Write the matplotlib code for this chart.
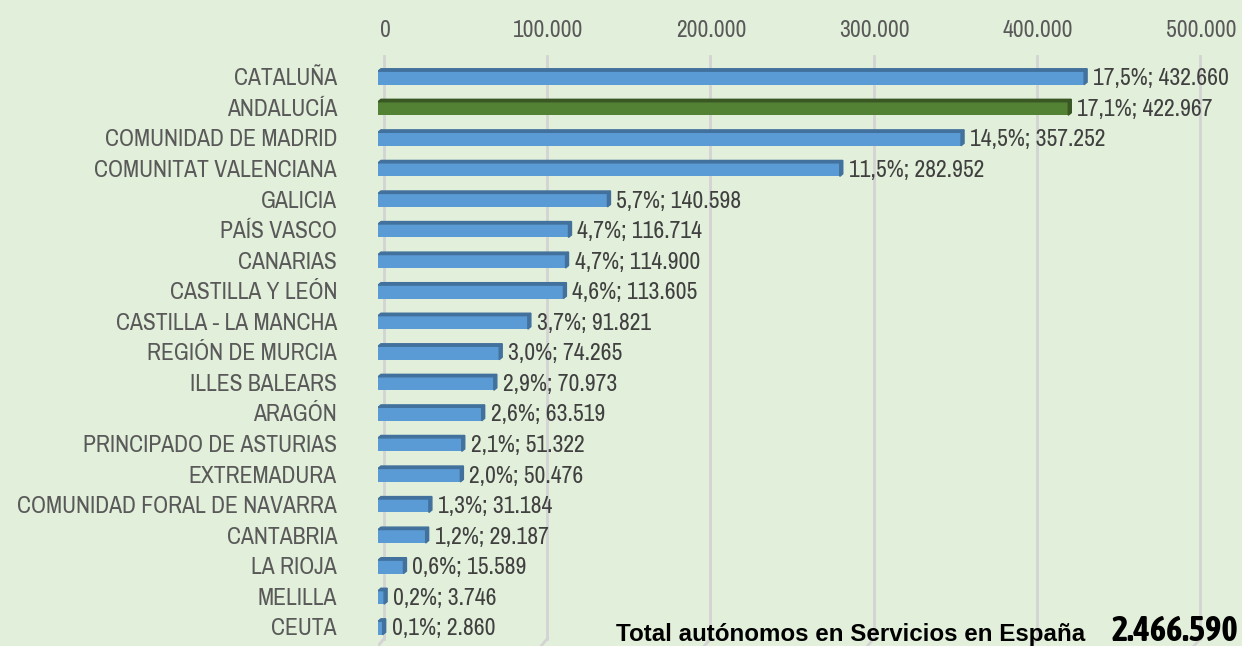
import matplotlib
matplotlib.use('Agg')
import matplotlib.pyplot as plt
from matplotlib.patches import Polygon
from matplotlib import font_manager

regiones = ['CATALUÑA', 'ANDALUCÍA', 'COMUNIDAD DE MADRID', 'COMUNITAT VALENCIANA',
            'GALICIA', 'PAÍS VASCO', 'CANARIAS', 'CASTILLA Y LEÓN',
            'CASTILLA - LA MANCHA', 'REGIÓN DE MURCIA', 'ILLES BALEARS', 'ARAGÓN',
            'PRINCIPADO DE ASTURIAS', 'EXTREMADURA', 'COMUNIDAD FORAL DE NAVARRA',
            'CANTABRIA', 'LA RIOJA', 'MELILLA', 'CEUTA']
autonomos = [432660, 422967, 357252, 282952, 140598, 116714, 114900, 113605,
             91821, 74265, 70973, 63519, 51322, 50476, 31184, 29187, 15589, 3746, 2860]
porcentajes = ['17,5%', '17,1%', '14,5%', '11,5%', '5,7%', '4,7%', '4,7%', '4,6%',
               '3,7%', '3,0%', '2,9%', '2,6%', '2,1%', '2,0%', '1,3%', '1,2%', '0,6%',
               '0,2%', '0,1%']
ticks = [0, 100000, 200000, 300000, 400000, 500000]
total_texto = 'Total autónomos en Servicios en España'
total_valor = '2.466.590'
destacada = 'ANDALUCÍA'

# pick a condensed face if one is installed, else Liberation Sans (Arial metrics)
fonts = font_manager.fontManager.ttflist
names = sorted({f.name for f in fonts})
cond = [n for n in names if 'Narrow' in n or 'Condensed' in n]
fam = cond[0] if cond else 'Liberation Sans'
bold_cond = [n for n in cond
             if any(f.name == n and f.weight in ('bold', 700, 'heavy', 800) for f in fonts)]
fam_bold = bold_cond[0] if bold_cond else 'Liberation Sans'

def miles(v):
    return f'{v:,}'.replace(',', '.')

bg = '#E2EFDA'
W, H = 1242, 646
fig = plt.figure(figsize=(W / 100, H / 100), dpi=100, facecolor=bg)
renderer = fig.canvas.get_renderer()

def fit(s, width, maxsize, family, weight='normal'):
    # font size that gives the text the width it has in the reference
    t = fig.text(0, 0, s, fontsize=10, family=family, fontweight=weight)
    w = t.get_window_extent(renderer).width
    t.remove()
    return min(maxsize, 10 * width / w)

fs_lab = fit('COMUNIDAD FORAL DE NAVARRA', 325, 17, fam)
fs_val = fit('17,5%; 432.660', 136, 17, fam)
fs_tick = fit('100.000', 69, 17, fam)
fs_tot = fit(total_texto, 468, 18, 'Liberation Sans', 'bold')
fs_num = fit(total_valor, 131, 25, fam_bold, 'bold')

# axes: x from 378px to 1242px, y from 55px to 646px
ax = fig.add_axes([378 / W, 0, 1 - 378 / W, (646 - 55) / H])
ax.set_facecolor(bg)
ppu = 816 / 500000
x0 = -6 / ppu
ax.set_xlim(x0, (W - 384) / ppu)
ax.set_ylim(18.59, -0.75)

for t in ticks:
    ax.plot([t, t], [-0.72, 18.35], color='#D3D3D3', lw=2, zorder=0)
    ax.plot([t, t - 6 / ppu], [18.35, 18.59], color='#D3D3D3', lw=2, zorder=0)
    ax.text(t + 1 / ppu, -1.55, miles(t), ha='center', va='center', fontsize=fs_tick,
            color='#595959', family=fam, clip_on=False)

h = 0.44
dx = 3 / ppu
dy = 0.08
for i, (r, v, p) in enumerate(zip(regiones, autonomos, porcentajes)):
    face, dark = ('#548235', '#385723') if r == destacada else ('#5B9BD5', '#41719C')
    end = v + x0
    ax.barh(i, v, height=h, left=x0, color=face, zorder=2)
    # top and right side of the 3D bar
    ax.add_patch(Polygon([[x0, i - h / 2], [end, i - h / 2],
                          [end + dx, i - h / 2 - dy], [x0 + dx, i - h / 2 - dy]],
                         closed=True, color=dark, zorder=3))
    ax.add_patch(Polygon([[end, i - h / 2], [end + dx, i - h / 2 - dy],
                          [end + dx, i + h / 2 - dy], [end, i + h / 2]],
                         closed=True, color=dark, zorder=3))
    ax.text(end + 9 / ppu, i + 0.03, f'{p}; {miles(v)}', ha='left', va='center',
            fontsize=fs_val, color='#404040', family=fam, zorder=4)
    ax.text(-47 / ppu, i + 0.03, r, ha='right', va='center', fontsize=fs_lab,
            color='#595959', family=fam, clip_on=False)

ax.axis('off')

fig.text(1085 / W, 1 - 634 / H, total_texto, ha='right', va='center', fontsize=fs_tot,
         fontweight='bold', color='black', family='Liberation Sans')
fig.text(1238 / W, 1 - 631 / H, total_valor, ha='right', va='center', fontsize=fs_num,
         fontweight='bold', color='black', family=fam_bold)

fig.savefig('out.png', dpi=100, facecolor=bg)
